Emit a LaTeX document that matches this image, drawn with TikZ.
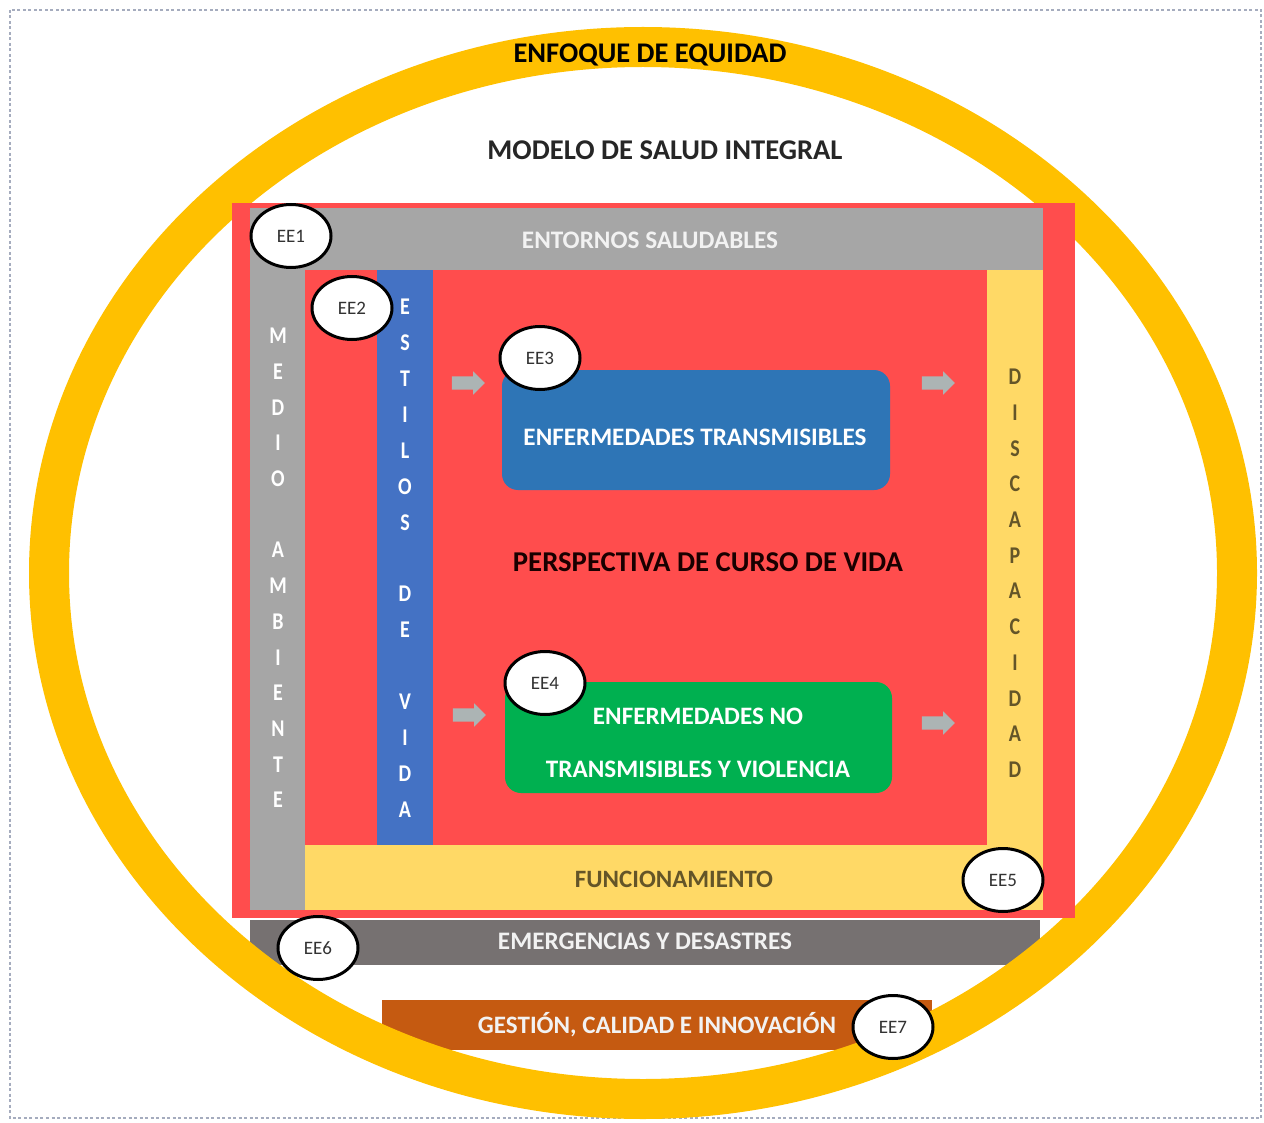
\documentclass[tikz,border=0pt]{standalone}
\usepackage{fontspec}
\usepackage{graphicx}
\setmainfont{Carlito}
\usetikzlibrary{shapes.geometric,shapes.arrows}
\definecolor{ringY}{RGB}{255,192,0}
\definecolor{redBg}{RGB}{255,77,77}
\definecolor{grayBar}{RGB}{166,166,166}
\definecolor{blueBar}{RGB}{68,114,196}
\definecolor{yellowBar}{RGB}{255,217,102}
\definecolor{darkBar}{RGB}{118,113,113}
\definecolor{orangeBar}{RGB}{197,90,17}
\definecolor{blueBox}{RGB}{46,117,182}
\definecolor{greenBox}{RGB}{0,176,80}
\definecolor{arrowGray}{RGB}{172,180,180}
\definecolor{frameC}{RGB}{165,172,190}
\definecolor{darkText}{RGB}{100,85,40}
\definecolor{eeText}{RGB}{50,50,50}
\definecolor{lightText}{RGB}{242,242,242}
\newcommand\fitw[2]{\resizebox{#1pt}{!}{#2}}
\newcommand\vletter[1]{\scalebox{1}[1.2]{#1}}
\begin{document}
\begin{tikzpicture}[x=1pt,y=-1pt,
  lbl/.style={inner sep=0, outer sep=0, font=\bfseries},
  vl/.style={inner sep=0, font=\fontsize{20}{20}\selectfont\bfseries},
  ee/.style={ellipse, draw=black, line width=3pt, fill=white, minimum width=80, minimum height=63, inner sep=0, font=\fontsize{19}{19}\selectfont, text=eeText},
  garrow/.style={single arrow, fill=arrowGray, draw=none, minimum height=33, inner xsep=0, inner ysep=6.5, text height=0pt, text depth=0pt, text width=0pt, single arrow head extend=5, single arrow head indent=0}
]
\useasboundingbox (0,0) rectangle (1264,1123);
% frame
\draw[frameC, line width=1.3, dash pattern=on 3pt off 2.5pt] (10,10) rectangle (1261,1118);
% lower bars under ring
\fill[orangeBar] (382,1000) rectangle (932,1050);
\fill[darkBar] (250,920) rectangle (1040,965);
% ring
\draw[ringY, line width=40] (643,573) ellipse [x radius=594, y radius=526];
% red main
\fill[redBg] (232,203) rectangle (1075,918);
\fill[grayBar] (250,208) rectangle (1043,270);
\fill[grayBar] (250,208) rectangle (305,910);
\fill[yellowBar] (987,270) rectangle (1043,910);
\fill[yellowBar] (305,845) rectangle (1043,910);
\fill[blueBar] (377,270) rectangle (433,845);
% boxes
\node[fill=blueBox, rounded corners=16, minimum width=388, minimum height=120, inner sep=0] (trans) at (696,430) {};
\node[fill=greenBox, rounded corners=16, minimum width=387, minimum height=111, inner sep=0] (notrans) at (698.5,737.5) {};
% arrows
\node[garrow] (a1) at (465,383) {};
\node[garrow] (a2) at (935,383) {};
\node[garrow] (a3) at (466,715) {};
\node[garrow] (a4) at (935,723) {};
% texts
\node[lbl, text=black] (equidad) at (650,55) {\fitw{273}{ENFOQUE DE EQUIDAD}};
\node[lbl, text=black!85] (modelo) at (665,150) {\fitw{355}{MODELO DE SALUD INTEGRAL}};
\node[lbl, text=lightText] (entornos) at (650,240) {\fitw{256}{ENTORNOS SALUDABLES}};
\node[lbl, text=white] (tt) at (695,437) {\fitw{343}{ENFERMEDADES TRANSMISIBLES}};
\node[lbl, text=black!90!red] (persp) at (708,562) {\fitw{390}{PERSPECTIVA DE CURSO DE VIDA}};
\node[lbl, text=white] (nt1) at (698,716) {\fitw{210}{ENFERMEDADES NO}};
\node[lbl, text=white] (nt2) at (698,769) {\fitw{304}{TRANSMISIBLES Y VIOLENCIA}};
\node[lbl, text=darkText] (func) at (674,879) {\fitw{198}{FUNCIONAMIENTO}};
\node[lbl, text=lightText] (emerg) at (645,941) {\fitw{294}{EMERGENCIAS Y DESASTRES}};
\node[lbl, text=lightText] (gest) at (657,1025) {\fitw{358}{GESTIÓN, CALIDAD E INNOVACIÓN}};
% vertical words
\foreach \c [count=\k from 0] in {M,E,D,I,O,{},A,M,B,I,E,N,T,E}
  \node[vl, text=white] (ma\k) at (278,336+35.7*\k) {\vletter{\c}};
\foreach \c [count=\k from 0] in {E,S,T,I,L,O,S,{},D,E,{},V,I,D,A}
  \node[vl, text=white] (ev\k) at (405,307+35.9*\k) {\vletter{\c}};
\foreach \c [count=\k from 0] in {D,I,S,C,A,P,A,C,I,D,A,D}
  \node[vl, text=darkText] (di\k) at (1015,377+35.7*\k) {\vletter{\c}};
% EE ellipses
\node[ee] (ee1) at (291,236) {EE1};
\node[ee] (ee2) at (352,308) {EE2};
\node[ee] (ee3) at (540,358) {EE3};
\node[ee] (ee4) at (545,683) {EE4};
\node[ee] (ee5) at (1003,880) {EE5};
\node[ee] (ee6) at (318,948) {EE6};
\node[ee] (ee7) at (893,1027) {EE7};
\end{tikzpicture}
\end{document}
